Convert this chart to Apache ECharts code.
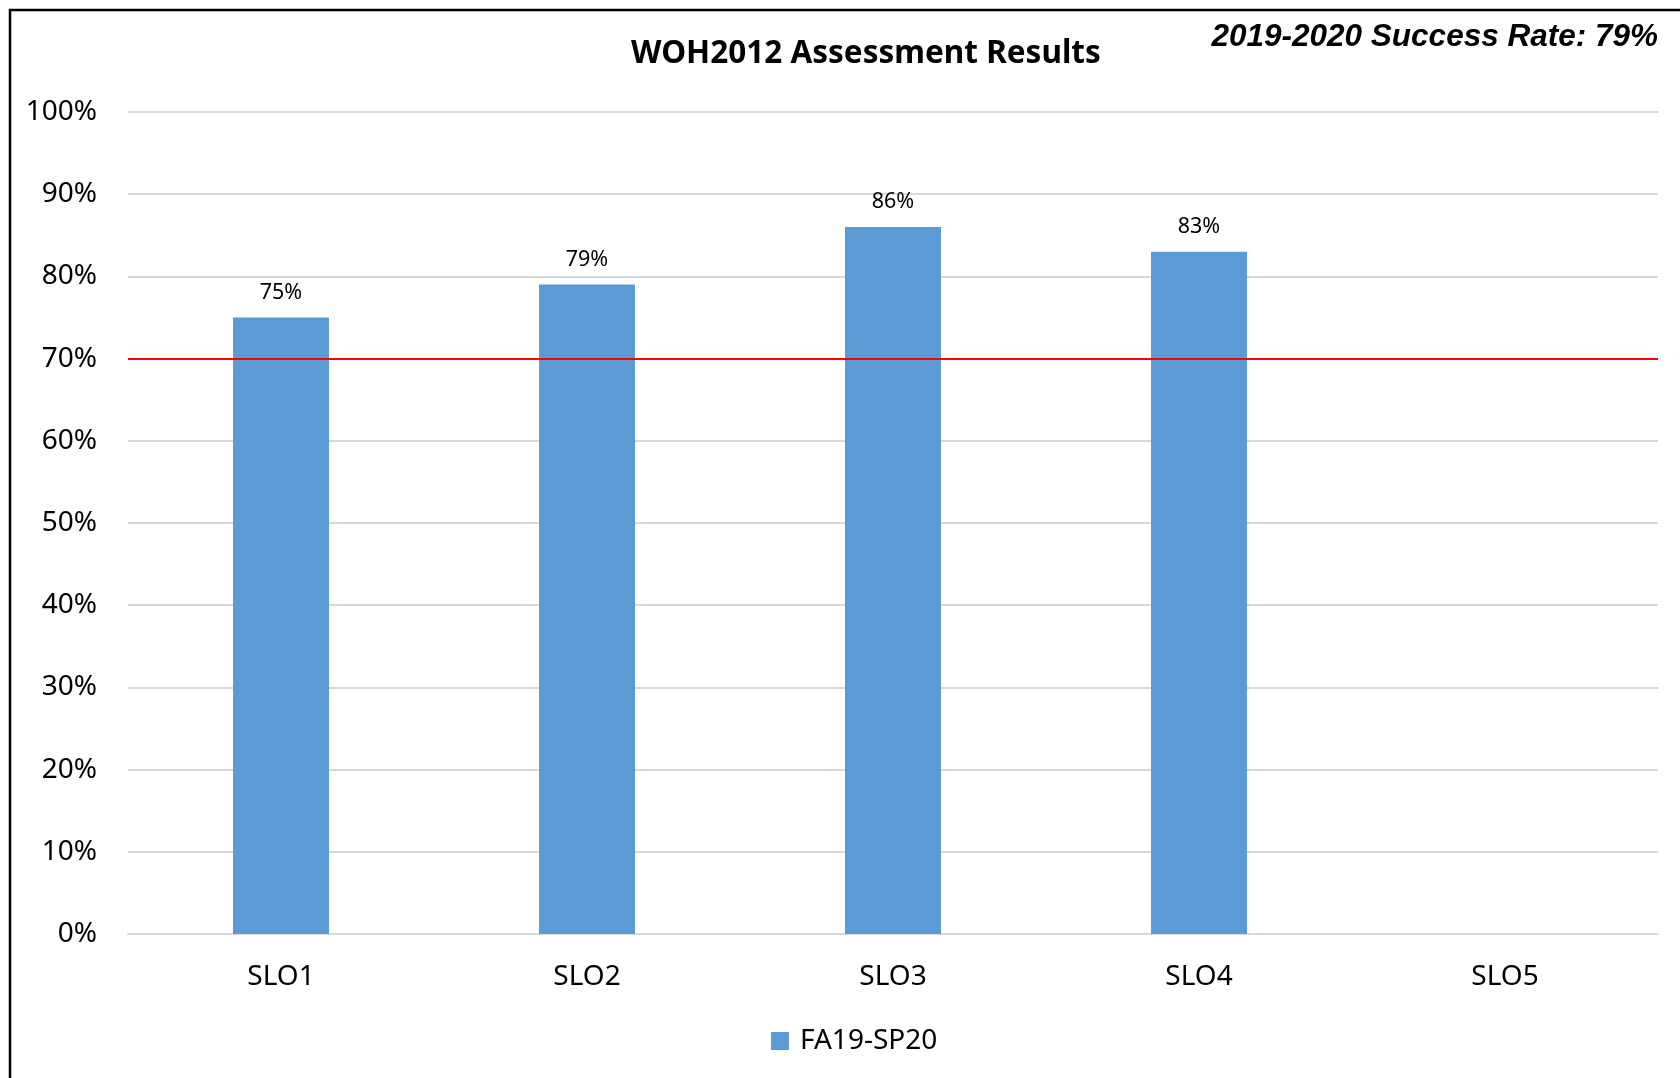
<!DOCTYPE html>
<html>
<head>
<meta charset="utf-8">
<title>WOH2012 Assessment Results</title>
<script src="https://cdn.jsdelivr.net/npm/echarts@6/dist/echarts.min.js"></script>
<style>
  html, body { margin: 0; padding: 0; background: #fff; }
  #main { width: 1680px; height: 1078px; }
</style>
</head>
<body>
<div id="main"></div>
<script>
// 数据
var categories = ['SLO1', 'SLO2', 'SLO3', 'SLO4', 'SLO5'];
var successRates = [75, 79, 86, 83, null];
var seriesName = 'FA19-SP20';
var targetRate = 70;
var yearRateText = '2019-2020 Success Rate: 79%';

var chart = echarts.init(document.getElementById('main'));

chart.setOption({
  animation: false,
  backgroundColor: '#fff',
  textStyle: { fontFamily: 'Noto Sans' },
  title: [{
    text: 'WOH2012 Assessment Results',
    left: 626,
    top: 33,
    textStyle: { fontFamily: 'Noto Sans', fontWeight: 'bold', fontSize: 31.5, color: '#000' }
  }, {
    text: yearRateText,
    right: 17,
    top: 16,
    textStyle: { fontFamily: 'Liberation Sans', fontStyle: 'italic', fontWeight: 'bold', fontSize: 31.5, color: '#000' }
  }],
  // 左上边框
  graphic: [{
    type: 'polyline',
    shape: { points: [[10, 1078], [10, 10], [1680, 10]] },
    style: { stroke: '#000', lineWidth: 2.5, fill: null }
  }],
  legend: {
    data: [seriesName],
    left: 766,
    top: 1022,
    itemWidth: 18,
    itemHeight: 18,
    icon: 'rect',
    textStyle: { fontSize: 28, color: '#000', padding: [0, 0, 0, 6] }
  },
  grid: {
    left: 128,
    right: 22,
    top: 112,
    bottom: 144
  },
  xAxis: {
    type: 'category',
    data: categories,
    axisTick: { show: false },
    axisLine: { lineStyle: { color: '#d9d9d9', width: 2 } },
    axisLabel: { fontSize: 28, color: '#000', margin: 29 }
  },
  yAxis: {
    type: 'value',
    min: 0,
    max: 100,
    interval: 10,
    axisLine: { show: false },
    axisTick: { show: false },
    splitLine: { lineStyle: { color: '#d9d9d9', width: 2 } },
    axisLabel: { formatter: '{value}%', fontSize: 28, color: '#000', margin: 31 }
  },
  series: [{
    name: seriesName,
    type: 'bar',
    data: successRates,
    barWidth: 96,
    itemStyle: { color: '#5b9bd5' },
    label: {
      show: true,
      position: 'top',
      distance: 14,
      formatter: '{c}%',
      fontSize: 21.5,
      color: '#000'
    },
    markLine: {
      silent: true,
      symbol: 'none',
      label: { show: false },
      lineStyle: { color: '#ff0000', width: 2, type: 'solid' },
      data: [{ yAxis: targetRate }]
    }
  }]
});
</script>
</body>
</html>
